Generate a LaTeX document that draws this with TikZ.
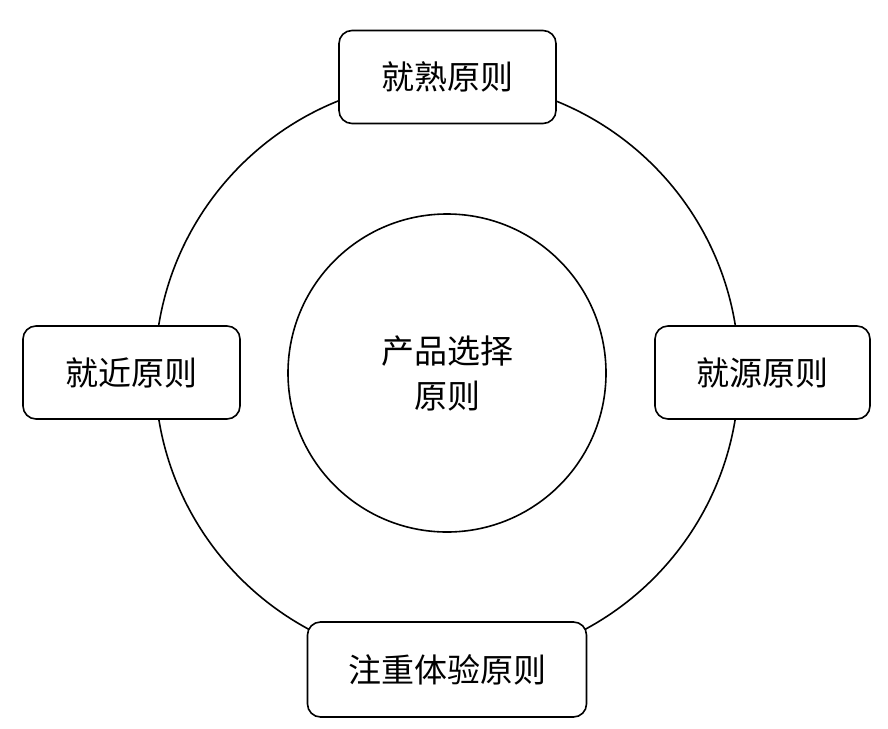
\documentclass[tikz,border=0pt]{standalone}
\usepackage{fontspec}
\newfontfamily\cjk{Noto Sans CJK SC}
\usepackage{tikz}

\begin{document}
\begin{tikzpicture}[x=1pt, y=-1pt, line width=1.6pt,
    rule/.style={draw, fill=white, rounded corners=13pt, inner sep=0pt,
                 minimum height=93pt, font=\cjk\fontsize{33}{44}\selectfont}]
                    \useasboundingbox (0,0) rectangle (888,728);
                    \node[draw, circle, minimum size=584pt, inner sep=0pt] (ring) at (447,372) {};
                    \node[draw, circle, minimum size=318pt, inner sep=0pt, align=center,
                          font=\cjk\fontsize{33}{45}\selectfont] (core) at (447,373) {产品选择\\原则};
                    \node[rule, minimum width=217pt] (top) at (447.5,77) {就熟原则};
                    \node[rule, minimum width=217pt] (left) at (131.5,372.5) {就近原则};
                    \node[rule, minimum width=215pt] (right) at (762.5,372.5) {就源原则};
                    \node[rule, minimum width=279pt, minimum height=95pt] (bottom) at (447,669.5) {注重体验原则};
                \end{tikzpicture}
\end{document}
